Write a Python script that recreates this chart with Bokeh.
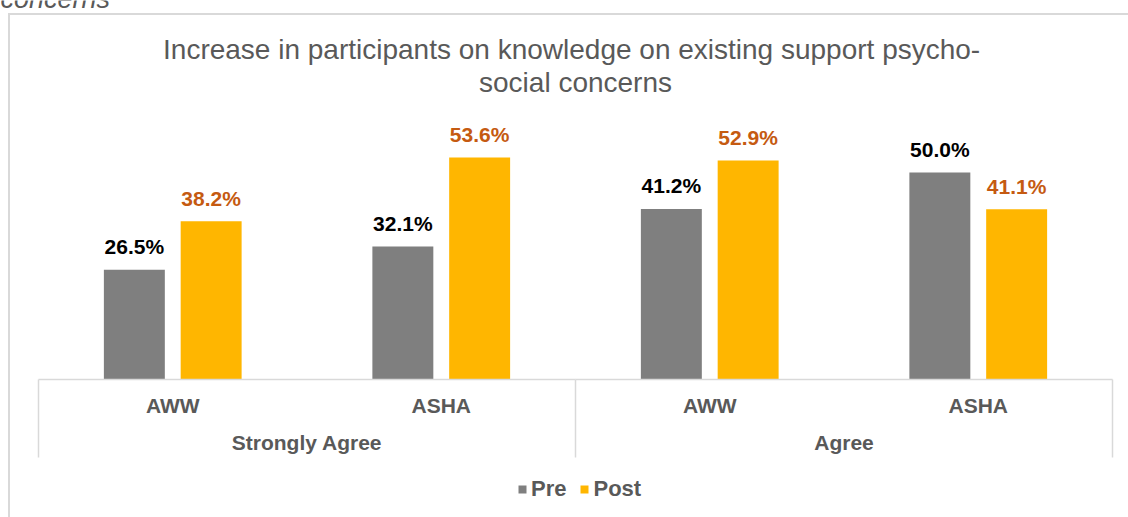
from bokeh.plotting import figure
from bokeh.models import (FactorRange, Range1d, ColumnDataSource, Label,
                          Legend, LegendItem)
from bokeh.transform import dodge
from bokeh.core.properties import value
from bokeh.embed import file_html
from bokeh.resources import INLINE

# ---- data ----
groups = ["Strongly Agree", "Strongly Agree", "Agree", "Agree"]
roles = ["AWW", "ASHA", "AWW", "ASHA"]
pre_values = [26.5, 32.1, 41.2, 50.0]
post_values = [38.2, 53.6, 52.9, 41.1]
series_names = ["Pre", "Post"]
title_lines = ["Increase in participants on knowledge on existing  support psycho-",
               "social concerns"]
caption_tail = "concerns"

# ---- style ----
W, H = 1128, 517
FONT = "Liberation Sans"
TXT = "#595959"
PRE_C = "#7f7f7f"
POST_C = "#ffb600"
POST_LBL = "#c55a11"
LINE_C = "#d9d9d9"
PX_PER_UNIT = 4.14          # vertical pixels per percentage point
AXIS_Y_PX = 379             # pixel row of the category axis
CAT_LEFT_PX, CAT_RIGHT_PX = 38, 1112   # horizontal extent of the category axis

factors = list(zip(groups, roles))
group_names = list(dict.fromkeys(groups))
n_cat = len(factors)
cat_px = (CAT_RIGHT_PX - CAT_LEFT_PX) / n_cat

# symmetric padding (applied on each side) so that one category is cat_px wide
# over the full canvas, plus a constant shift to place the axis as in the reference
pad_each = (W / cat_px - n_cat) / 2
x_range = FactorRange(*factors, factor_padding=0, subgroup_padding=0, group_padding=0,
                      range_padding=pad_each, range_padding_units="absolute")
SHIFT = CAT_LEFT_PX / cat_px - pad_each

y_range = Range1d(-(H - AXIS_Y_PX) / PX_PER_UNIT, AXIS_Y_PX / PX_PER_UNIT)

# outer chart-area border (drawn behind the transparent canvas)
border_css = {
    "background-color": "white",
    "background-image": f"linear-gradient({LINE_C}, {LINE_C}), linear-gradient({LINE_C}, {LINE_C})",
    "background-position": "8px 13px, 8px 13px",
    "background-size": "2px 700px, 1300px 2px",
    "background-repeat": "no-repeat",
}

p = figure(width=W, height=H, x_range=x_range, y_range=y_range,
           output_backend="svg", toolbar_location=None,
           x_axis_location=None, y_axis_location=None,
           min_border_left=0, min_border_right=0,
           min_border_top=0, min_border_bottom=0,
           outline_line_color=None, background_fill_color=None,
           border_fill_color=None, styles=border_css)
p.grid.visible = False


def dx(field, off=0.0):
    return dodge(field, off + SHIFT, range=x_range)


src = ColumnDataSource(dict(
    x=factors, role=roles, pre=pre_values, post=post_values,
    pre_lbl=[f"{v:.1f}%" for v in pre_values],
    post_lbl=[f"{v:.1f}%" for v in post_values],
))

OFF = 0.143
BW = 0.227
r_pre = p.vbar(x=dx("x", -OFF), top="pre", width=BW, source=src,
               fill_color=PRE_C, line_color=None)
r_post = p.vbar(x=dx("x", OFF), top="post", width=BW, source=src,
                fill_color=POST_C, line_color=None)

lbl_kw = dict(text_align="center", text_baseline="alphabetic", y_offset=-23,
              text_font=value(FONT), text_font_style="bold", text_font_size="21px")
p.text(x=dx("x", -OFF), y="pre", text="pre_lbl", source=src,
       text_color="black", **lbl_kw)
p.text(x=dx("x", OFF), y="post", text="post_lbl", source=src,
       text_color=POST_LBL, **lbl_kw)

# category axis (drawn in frame)
sep_len = -(457 - AXIS_Y_PX) / PX_PER_UNIT
gsrc = ColumnDataSource(dict(g=group_names))
p.segment(x0=dx("g", -1), x1=dx("g", 1), y0=0, y1=0, source=gsrc,
          line_color=LINE_C, line_width=1.5)
p.segment(x0=dx("g", -1), x1=dx("g", -1), y0=0, y1=sep_len, source=gsrc,
          line_color=LINE_C, line_width=1.5)
p.segment(x0=dx("g", 1), x1=dx("g", 1), y0=0, y1=sep_len,
          source=ColumnDataSource(dict(g=group_names[-1:])),
          line_color=LINE_C, line_width=1.5)

ax_kw = dict(text_align="center", text_baseline="alphabetic", text_font=value(FONT),
             text_font_style="bold", text_font_size="21px", text_color=TXT)
p.text(x=dx("x"), y=0, text="role", source=src, y_offset=26, **ax_kw)
p.text(x=dx("g"), y=0, text="g", source=gsrc, y_offset=63, **ax_kw)

# title
tsrc = ColumnDataSource(dict(g=[group_names[-1]] * 2, t=title_lines,
                             y=[y_range.end] * 2, off=[49, 82]))
p.text(x=dx("g", -1), y="y", text="t", y_offset="off", source=tsrc,
       text_align="center", text_baseline="alphabetic", text_font=value(FONT),
       text_font_size="28px", text_color=TXT)

legend = Legend(items=[LegendItem(label=series_names[0], renderers=[r_pre]),
                       LegendItem(label=series_names[1], renderers=[r_post])],
                orientation="horizontal", location=(517, 15),
                glyph_width=10, glyph_height=10, label_standoff=4, spacing=13,
                padding=0, margin=0, border_line_color=None, background_fill_alpha=0,
                label_text_font=FONT, label_text_font_style="bold",
                label_text_font_size="22px", label_text_color=TXT)
p.add_layout(legend)

# cut-off caption at the top-left, above the chart area (as in the reference crop)
p.add_layout(Label(x=0, y=H + 2, x_units="screen", y_units="screen",
                   text=caption_tail, text_baseline="alphabetic",
                   text_font=FONT, text_font_style="italic", text_font_size="27px",
                   text_color=TXT))

open("out.html", "w").write(file_html(p, INLINE))
